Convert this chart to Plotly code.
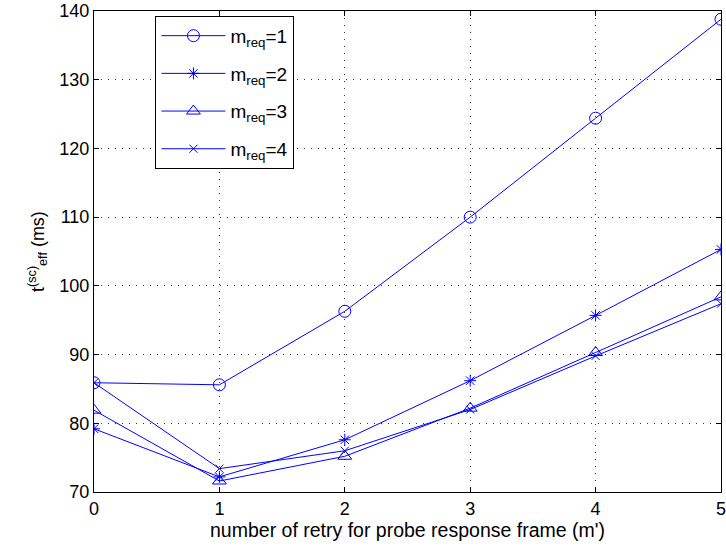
import plotly.graph_objects as go

x_vals = [0, 1, 2, 3, 4, 5]
m1 = [85.9, 85.6, 96.3, 110.0, 124.4, 138.8]
m2 = [79.2, 72.2, 77.6, 86.2, 95.7, 105.3]
m3 = [81.9, 71.6, 75.2, 82.2, 90.3, 98.4]
m4 = [85.9, 73.4, 76.0, 82.0, 89.8, 97.4]
names = ["m<sub>req</sub>=1", "m<sub>req</sub>=2", "m<sub>req</sub>=3", "m<sub>req</sub>=4"]
symbols = ["circle-open", "asterisk-open", "triangle-up-open", "x-thin-open"]
sizes = [12, 10, 12, 8]

fig = go.Figure()
for i, (ys, nm, sym, sz) in enumerate(zip([m1, m2, m3, m4], names, symbols, sizes)):
    fig.add_trace(go.Scatter(
        x=x_vals, y=ys, name=nm, mode="lines+markers", legendgroup=f"g{i}",
        line=dict(color="#0000ff", width=1),
        marker=dict(symbol=sym, size=sz, color="#0000ff", line=dict(width=1, color="#0000ff")),
    ))

FONT = "Liberation Sans, Arial, sans-serif"
axis_common = dict(
    showline=True, linecolor="black", linewidth=1, mirror="ticks",
    ticks="inside", ticklen=5, tickcolor="black", automargin=False,
    ticklabeloverflow="allow",
    showgrid=True, gridcolor="#333333", griddash="1px,6px", gridwidth=1,
    zeroline=False, tickfont=dict(family=FONT, size=18, color="black"),
)
fig.update_xaxes(range=[0, 5], tickvals=[0, 1, 2, 3, 4, 5],
                 title=dict(text="number of retry for probe response frame (m')",
                            font=dict(family=FONT, size=19.5, color="black"), standoff=2),
                 **axis_common)
fig.update_yaxes(range=[70, 140], tickvals=[70, 80, 90, 100, 110, 120, 130, 140],
                 title=dict(text="t<sup>(sc)</sup><sub>eff</sub> (ms)",
                            font=dict(family=FONT, size=18, color="black"), standoff=10),
                 **axis_common)

fig.update_layout(
    width=726, height=553,
    margin=dict(l=94, r=5, t=11, b=61, autoexpand=False),
    plot_bgcolor="white", paper_bgcolor="white",
    font=dict(family=FONT, size=18, color="black"),
    legend=dict(x=0.098, y=0.99, xanchor="left", yanchor="top",
                bordercolor="black", borderwidth=1, bgcolor="white",
                itemwidth=64, tracegroupgap=10, font=dict(family=FONT, size=19)),
)
fig.write_html("out.html")
